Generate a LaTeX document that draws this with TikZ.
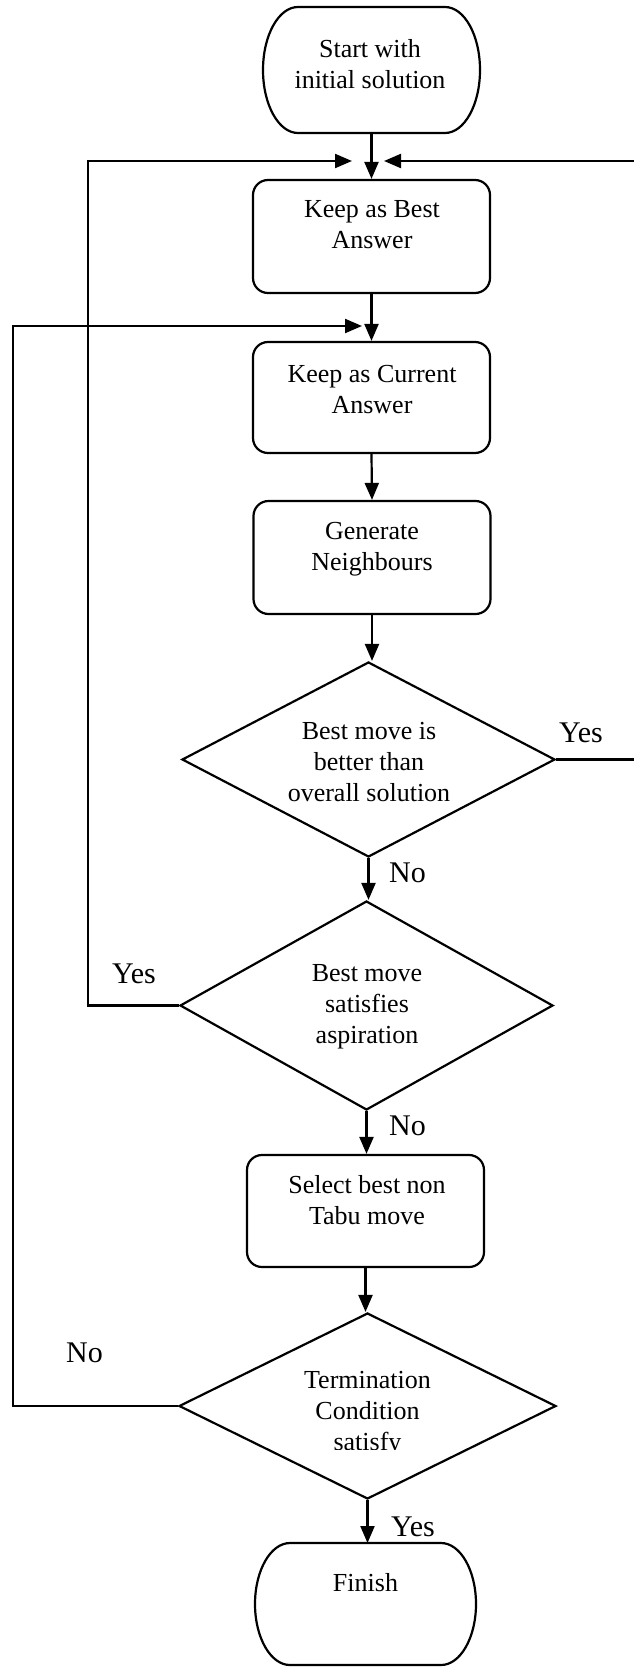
\documentclass[tikz,border=0pt]{standalone}
\usepackage{fontspec}
\setmainfont{Liberation Serif}
\usetikzlibrary{arrows.meta,shapes.geometric}

% outline of a terminal box: straight top and bottom, half-ellipse sides
\newcommand{\terminalpath}[2]{%
  \draw ([xshift=35pt]#1.north west) -- ([xshift=-35pt]#1.north east)
    arc[start angle=90, end angle=-90, x radius=35pt, y radius=#2]
    -- ([xshift=35pt]#1.south west)
    arc[start angle=270, end angle=90, x radius=35pt, y radius=#2] -- cycle;}

\begin{document}
\begin{tikzpicture}[x=1pt,y=1pt,
  line width=2.2pt,
  proc/.style={draw, rectangle, rounded corners=15pt, minimum width=237pt, inner sep=0pt},
  decision/.style={draw, diamond, inner sep=0pt},
  term/.style={rectangle, inner sep=0pt, outer sep=0pt},
  txt/.style={font=\fontsize{26}{31}\selectfont, align=center, inner sep=0pt},
  lbl/.style={font=\fontsize{30}{34}\selectfont, inner sep=0pt, anchor=base west},
  flow/.style={-{Triangle[length=17pt,width=14pt]}},
]
\useasboundingbox (0,0) rectangle (633,-1667);
\fill[white] (0,0) rectangle (633,-1667);

% start
\node[term, minimum width=217pt, minimum height=126pt] (start) at (371.5,-70) {};
\terminalpath{start}{63pt}
\node[txt] (startT) at (370,-64.6) {Start with\\initial solution};

% process boxes
\node[proc, minimum height=113pt] (best) at (371.5,-236.5) {};
\node[txt] (bestT) at (372,-225) {Keep as Best\\Answer};
\node[proc, minimum height=111pt] (cur) at (371.5,-397.5) {};
\node[txt] (curT) at (372,-389.6) {Keep as Current\\Answer};
\node[proc, minimum height=113pt] (gen) at (372,-557.5) {};
\node[txt] (genT) at (372,-549.4) {Generate\\Neighbours};

% decisions
\node[decision, minimum width=373pt, minimum height=195pt] (d1) at (368.5,-759.5) {};
\node[txt] (d1T) at (369,-762) {Best move is\\better than\\overall solution};
\node[decision, minimum width=373pt, minimum height=209pt] (d2) at (366.5,-1005.5) {};
\node[txt] (d2T) at (367,-1007) {Best move\\satisfies\\aspiration};

\node[proc, minimum height=112pt] (sel) at (365.5,-1211) {};
\node[txt] (selT) at (367,-1199.6) {Select best non\\Tabu move};

\node[decision, minimum width=377pt, minimum height=186pt] (d3) at (367.5,-1406) {};
\begin{scope}
  \clip (250,-1340) rectangle (490,-1449);
  \node[txt] (d3T) at (367.5,-1414) {Termination\\Condition\\satisfy};
\end{scope}

% finish
\node[term, minimum width=221pt, minimum height=122pt] (fin) at (365.5,-1604) {};
\terminalpath{fin}{61pt}
\node[txt] (finT) at (365.5,-1583) {Finish};

% junctions and return rails
\coordinate (jA) at (372,-161);
\coordinate (jB) at (372,-326);
\coordinate (rx) at (640,0);
\coordinate (lxA) at (88,0);
\coordinate (lxB) at (13,0);

% main flow
\draw[flow] (start.south) -- (best.north);
\draw[flow] (best.south) -- (cur.north);
\draw[flow] (cur.south) -- (gen.north);
\draw[flow] (gen.south) -- (gen.south |- d1.north);
\draw[flow] (d1.south) -- (d1.south |- d2.north);
\draw[flow] (d2.south) -- (d2.south |- sel.north);
\draw[flow] (sel.south) -- (sel.south |- d3.north);
\draw[flow] (d3.south) -- (d3.south |- fin.north);

% loops back
\draw[flow] (d1.east) -| (rx |- jA) -- ([xshift=12pt]jA);
\draw[flow] (d2.west) -| (lxA |- jA) -- ([xshift=-20pt]jA);
\draw[flow] (d3.west) -| (lxB |- jB) -- ([xshift=-10pt]jB);

% branch labels
\node[lbl] (yes1) at (558,-742) {Yes};
\node[lbl] (no1) at (388,-882) {No};
\node[lbl] (yes2) at (111,-983) {Yes};
\node[lbl] (no2) at (388,-1135) {No};
\node[lbl] (no3) at (65,-1362) {No};
\node[lbl] (yes3) at (390,-1536) {Yes};
\end{tikzpicture}
\end{document}
